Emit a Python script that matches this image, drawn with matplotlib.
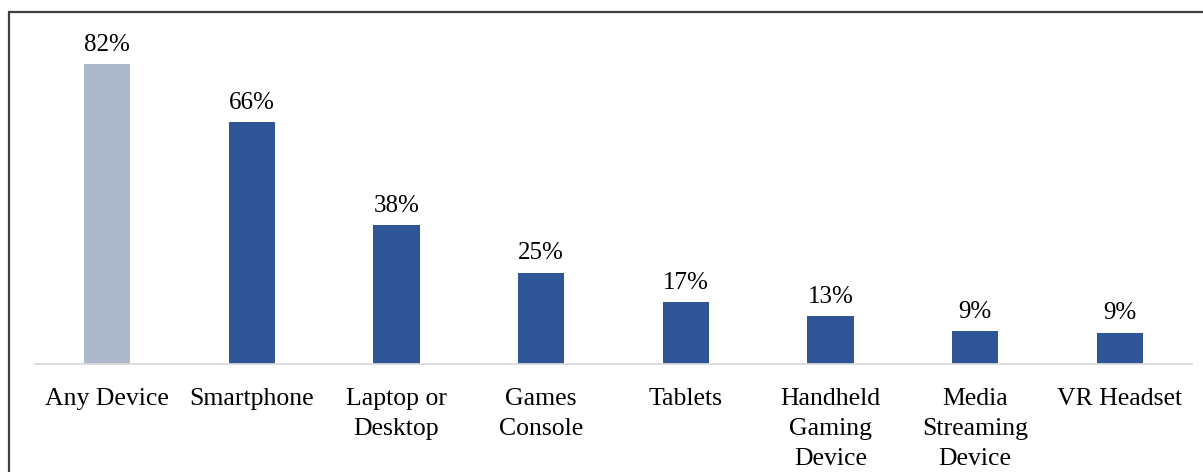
import matplotlib
matplotlib.use("Agg")
import matplotlib.pyplot as plt
from matplotlib.patches import Rectangle

categories = ["Any Device", "Smartphone", "Laptop or\nDesktop", "Games\nConsole",
              "Tablets", "Handheld\nGaming\nDevice", "Media\nStreaming\nDevice", "VR Headset"]
values = [82, 66, 38, 25, 17, 13, 9.1, 8.6]
labels = ["82%", "66%", "38%", "25%", "17%", "13%", "9%", "9%"]
colors = ["#adb9ca"] + ["#2f5597"] * 7

W, H = 1203, 472
fig = plt.figure(figsize=(W / 100, H / 100), dpi=100)
plt.rcParams['font.family'] = ['Liberation Serif', 'DejaVu Serif']

# axes: x from 35 to 1192 px, baseline at y=364, 3.66 px per %
x0, x1 = 35, 1192
base = 364
ymax = 90
top = base - ymax * 3.66
ax = fig.add_axes([x0 / W, 1 - base / H, (x1 - x0) / W, (base - top) / H])
xs = list(range(len(categories)))
ax.bar(xs, values, width=0.32, color=colors)
for x, v, l in zip(xs, values, labels):
    ax.text(x, v + 2.2, l, ha="center", va="bottom", fontsize=18)
ax.set_xlim(-0.5, len(categories) - 0.5)
ax.set_ylim(0, ymax)
ax.set_yticks([])
ax.set_xticks(xs)
ax.set_xticklabels(categories, fontsize=18.5, linespacing=1.46)
ax.tick_params(axis="x", length=0, pad=17.5)
for s in ["top", "right", "left"]:
    ax.spines[s].set_visible(False)
ax.spines["bottom"].set_color("#d9d9d9")
ax.spines["bottom"].set_linewidth(1.3)

# outer border (left and top visible)
fig.patches.append(Rectangle((8.5 / W, -0.1), 1.2, 1.1 - 11.5 / H, transform=fig.transFigure,
                             fill=False, edgecolor="#404040", linewidth=1.6))

fig.savefig("out.png", dpi=100)
